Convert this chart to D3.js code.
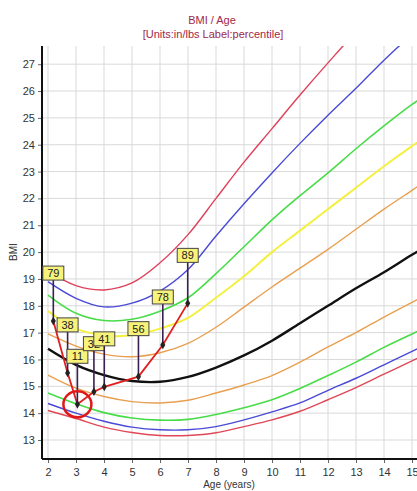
<!DOCTYPE html>
<html>
<head>
<meta charset="utf-8">
<script src="https://cdn.jsdelivr.net/npm/d3@7/dist/d3.min.js"></script>
<style>
body { margin: 0; background: #fff; }
text { font-family: "Liberation Sans", Arial, sans-serif; }
</style>
</head>
<body>
<script>
// percentile curves
var ages = [2, 3, 4, 5, 6, 7, 8, 9, 10, 11, 12, 13, 14, 15, 15.5];
var p97 = [19.3, 18.75, 18.59, 18.85, 19.6, 20.65, 22.0, 23.35, 24.6, 25.85, 27.05, 28.2, 29.2, 30.1, 30.5];
var p95 = [18.9, 18.28, 17.96, 18.1, 18.55, 19.35, 20.6, 21.8, 22.95, 24.05, 25.1, 26.1, 27.15, 28.1, 28.5];
var p90 = [18.4, 17.72, 17.45, 17.5, 17.8, 18.3, 19.2, 20.2, 21.2, 22.1, 22.95, 23.85, 24.7, 25.5, 25.85];
var p85 = [17.8, 17.15, 16.9, 16.9, 17.15, 17.55, 18.3, 19.1, 20.0, 20.8, 21.6, 22.4, 23.2, 23.95, 24.3];
var p75 = [16.95, 16.5, 16.2, 16.1, 16.25, 16.6, 17.2, 17.95, 18.7, 19.4, 20.1, 20.85, 21.6, 22.3, 22.65];
var p50 = [16.4, 15.8, 15.42, 15.2, 15.17, 15.35, 15.7, 16.15, 16.7, 17.35, 18.0, 18.65, 19.25, 19.9, 20.2];
var p25 = [15.42, 14.93, 14.62, 14.43, 14.38, 14.48, 14.75, 15.05, 15.4, 15.9, 16.47, 17.0, 17.58, 18.13, 18.4];
var p10 = [14.75, 14.35, 14.02, 13.82, 13.74, 13.77, 13.95, 14.2, 14.5, 14.92, 15.4, 15.9, 16.45, 16.95, 17.2];
var p5 = [14.36, 14.0, 13.7, 13.48, 13.38, 13.38, 13.5, 13.75, 14.05, 14.38, 14.85, 15.3, 15.8, 16.3, 16.55];
var p3 = [14.1, 13.8, 13.48, 13.28, 13.17, 13.17, 13.27, 13.5, 13.75, 14.07, 14.5, 14.95, 15.45, 15.95, 16.2];

// patient visits
var visitAges = [2.19, 2.7, 3.05, 3.64, 4.01, 5.23, 6.1, 6.99];
var visitBmi = [17.43, 15.5, 14.33, 14.8, 14.98, 15.36, 16.54, 18.09];
var visitLabels = ["79", "38", "11", "32", "41", "56", "78", "89"];

var xTicks = [2, 3, 4, 5, 6, 7, 8, 9, 10, 11, 12, 13, 14, 15];
var yTicks = [13, 14, 15, 16, 17, 18, 19, 20, 21, 22, 23, 24, 25, 26, 27];

var width = 417;
var height = 491;
var plotLeft = 42, plotRight = 417, plotTop = 46, plotBottom = 459;

var x = d3.scaleLinear().domain([2, 15]).range([48, 412]);
var y = d3.scaleLinear().domain([13, 27]).range([440, 64.2]);

var curves = [
    {v: p97, color: "#e0405a", w: 1.4},
    {v: p95, color: "#4a4ad6", w: 1.4},
    {v: p90, color: "#48dc48", w: 1.6},
    {v: p85, color: "#f4f040", w: 2},
    {v: p75, color: "#e8a050", w: 1.4},
    {v: p50, color: "#111111", w: 2.4},
    {v: p25, color: "#e8a050", w: 1.4},
    {v: p10, color: "#48dc48", w: 1.6},
    {v: p5, color: "#4a4ad6", w: 1.4},
    {v: p3, color: "#e04858", w: 1.4}
];

var svg = d3.select("body")
            .append("svg")
            .attr("width", width)
            .attr("height", height);

svg.append("defs").append("clipPath")
   .attr("id", "plot")
   .append("rect")
   .attr("x", plotLeft).attr("y", plotTop)
   .attr("width", plotRight - plotLeft).attr("height", plotBottom - plotTop);

// grid
svg.selectAll("line.vgrid")
   .data(xTicks)
   .enter()
   .append("line")
   .attr("class", "vgrid")
   .attr("x1", function(d) { return x(d); })
   .attr("x2", function(d) { return x(d); })
   .attr("y1", plotTop)
   .attr("y2", plotBottom)
   .style("stroke", "#d9d9d9")
   .style("stroke-width", 1);

svg.selectAll("line.hgrid")
   .data(yTicks)
   .enter()
   .append("line")
   .attr("class", "hgrid")
   .attr("x1", plotLeft)
   .attr("x2", plotRight)
   .attr("y1", function(d) { return y(d); })
   .attr("y2", function(d) { return y(d); })
   .style("stroke", "#d9d9d9")
   .style("stroke-width", 1);

// percentile curves
var line = d3.line()
             .x(function(d) { return x(d[0]); })
             .y(function(d) { return y(d[1]); })
             .curve(d3.curveCatmullRom);

var plot = svg.append("g").attr("clip-path", "url(#plot)");

plot.selectAll("path.pct")
    .data(curves)
    .enter()
    .append("path")
    .attr("class", "pct")
    .attr("d", function(c) { return line(d3.zip(ages, c.v)); })
    .style("fill", "none")
    .style("stroke", function(c) { return c.color; })
    .style("stroke-width", function(c) { return c.w; });

// axes
var xAxis = d3.axisBottom(x).tickValues(xTicks).tickSize(4).tickSizeOuter(0);
var yAxis = d3.axisLeft(y).tickValues(yTicks).tickSize(4).tickSizeOuter(0);

var gx = svg.append("g").attr("transform", "translate(0," + plotBottom + ")").call(xAxis);
var gy = svg.append("g").attr("transform", "translate(" + plotLeft + ",0)").call(yAxis);

gx.select(".domain").remove();
gy.select(".domain").remove();
gx.selectAll("text").style("font-size", "11px").style("fill", "#333").attr("dy", "0.9em");
gy.selectAll("text").style("font-size", "11px").style("fill", "#333");
gx.selectAll("line").style("stroke", "#666");
gy.selectAll("line").style("stroke", "#666");

svg.append("line")
   .attr("x1", plotLeft).attr("x2", plotLeft).attr("y1", plotTop).attr("y2", plotBottom)
   .style("stroke", "#111").style("stroke-width", 2);
svg.append("line")
   .attr("x1", plotLeft).attr("x2", plotRight).attr("y1", plotBottom).attr("y2", plotBottom)
   .style("stroke", "#111").style("stroke-width", 2);

// patient line
var visits = d3.range(visitAges.length).map(function(i) {
    return {age: visitAges[i], bmi: visitBmi[i], label: visitLabels[i]};
});

svg.append("path")
   .attr("d", d3.line()
               .x(function(d) { return x(d.age); })
               .y(function(d) { return y(d.bmi); })(visits))
   .style("fill", "none")
   .style("stroke", "#e02020")
   .style("stroke-width", 1.8);

var boxW = 21, boxH = 14, gap = 41;

var tags = svg.selectAll("g.tag")
              .data(visits)
              .enter()
              .append("g")
              .attr("class", "tag");

tags.append("line")
    .attr("x1", function(d) { return x(d.age); })
    .attr("x2", function(d) { return x(d.age); })
    .attr("y1", function(d) { return y(d.bmi) - gap; })
    .attr("y2", function(d) { return y(d.bmi); })
    .style("stroke", "#3b1f4f")
    .style("stroke-width", 1.6);

tags.append("path")
    .attr("d", d3.symbol().type(d3.symbolDiamond).size(22))
    .attr("transform", function(d) { return "translate(" + x(d.age) + "," + y(d.bmi) + ")"; })
    .style("fill", "#222");

tags.append("rect")
    .attr("x", function(d) { return x(d.age) - boxW / 2; })
    .attr("y", function(d) { return y(d.bmi) - gap - boxH; })
    .attr("width", boxW)
    .attr("height", boxH)
    .style("fill", "#f7f27a")
    .style("stroke", "#444")
    .style("stroke-width", 1);

tags.append("text")
    .attr("x", function(d) { return x(d.age); })
    .attr("y", function(d) { return y(d.bmi) - gap - boxH / 2; })
    .attr("dy", "0.36em")
    .attr("text-anchor", "middle")
    .style("font-size", "11px")
    .style("fill", "#222")
    .text(function(d) { return d.label; });

// circle round the lowest visit
var low = visits[d3.minIndex(visits, function(d) { return d.bmi; })];
svg.append("ellipse")
   .attr("cx", x(low.age))
   .attr("cy", y(low.bmi))
   .attr("rx", 14)
   .attr("ry", 13)
   .style("fill", "none")
   .style("stroke", "#e01818")
   .style("stroke-width", 2.5);

// titles
svg.append("text")
   .attr("x", 212).attr("y", 24)
   .attr("text-anchor", "middle")
   .style("font-size", "11px")
   .style("fill", "#a02848")
   .text("BMI / Age");
svg.append("text")
   .attr("x", 213).attr("y", 38)
   .attr("text-anchor", "middle")
   .style("font-size", "11px")
   .style("fill", "#a02848")
   .text("[Units:in/lbs Label:percentile]");

svg.append("text")
   .attr("x", 229).attr("y", 488)
   .attr("text-anchor", "middle")
   .style("font-size", "10px")
   .style("fill", "#333")
   .text("Age (years)");

svg.append("text")
   .attr("transform", "translate(17,252) rotate(-90)")
   .attr("text-anchor", "middle")
   .style("font-size", "10px")
   .style("fill", "#333")
   .text("BMI");
</script>
</body>
</html>
